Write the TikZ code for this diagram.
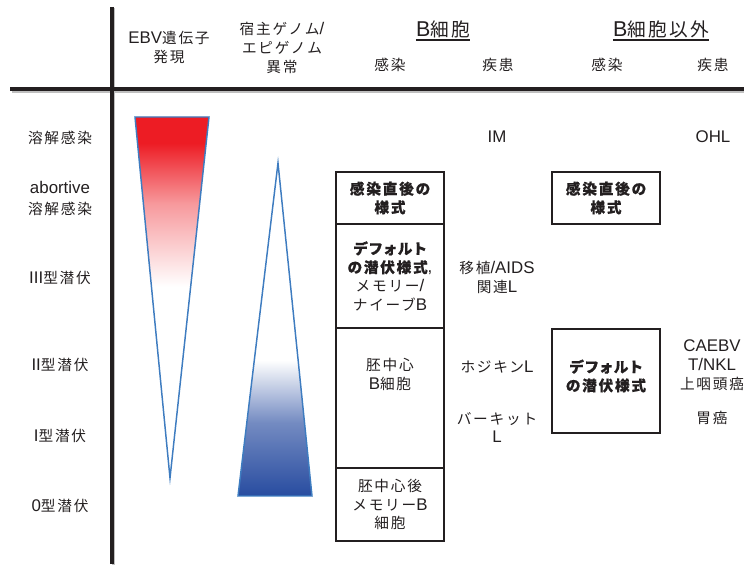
\documentclass[tikz,border=0pt]{standalone}
\usepackage{fontspec}
\setmainfont{Noto Sans CJK JP}[LetterSpace=12, BoldFeatures={RawFeature=+palt, FakeBold=0.5}]
\newfontfamily\hv{Liberation Sans}[Scale=1.15]
\definecolor{ebvred}{RGB}{237,28,36}
\definecolor{hostblue}{RGB}{40,76,160}
\definecolor{edgeblue}{RGB}{62,124,192}
\definecolor{txt}{RGB}{35,31,32}
\pgfdeclareverticalshading{redfade}{100bp}{color(0bp)=(white); color(51.5bp)=(white); color(63bp)=(ebvred!45); color(71.4bp)=(ebvred); color(100bp)=(ebvred)}
\pgfdeclareverticalshading{bluefade}{100bp}{color(0bp)=(hostblue); color(25bp)=(hostblue); color(36bp)=(hostblue!65); color(45.4bp)=(white); color(100bp)=(white)}
\tikzset{
  lab/.style={font=\fontsize{11pt}{14.2pt}\selectfont, align=center, inner sep=0pt, text=txt},
  head/.style={font=\fontsize{14pt}{16pt}\selectfont, inner sep=0pt, text=txt},
  cellbox/.style={draw=txt, line width=1.4pt, inner sep=0pt, minimum width=81pt, align=center,
    font=\fontsize{11pt}{14pt}\selectfont, text=txt},
  tri/.style={draw=edgeblue, line width=1.1pt, line join=miter},
  axis/.style={line width=2.3pt, draw=txt},
  axisshadow/.style={line width=2.3pt, draw=black!25}
}
\begin{document}
\begin{tikzpicture}[x=0.75pt,y=-0.75pt]
\useasboundingbox (0,0) rectangle (744,566);
% axes
\coordinate (vtop) at (112,7);
\coordinate (vbot) at (112,564);
\coordinate (hleft) at (10,89);
\coordinate (hright) at (744,89);
\draw[axisshadow] ([shift={(1.5,2)}]hleft) -- ([shift={(0,2)}]hright);
\draw[axisshadow] ([shift={(1.5,1)}]vtop) -- ([shift={(1.5,1)}]vbot);
\draw[axis] (hleft) -- (hright);
\draw[axis] (vtop) -- (vbot);
% headers
\node[lab] (hebv) at (169,47.5) {{\hv EBV}遺伝子\\発現};
\node[lab] (hhost) at (282,48) {宿主ゲノム{\hv /}\\エピゲノム\\異常};
\node[head] (hb) at (443,29) {{\hv B}細胞};
\node[head] (hnb) at (661,29) {{\hv B}細胞以外};
\draw[line width=1.3pt, txt] ([yshift=-3pt]hb.base west) -- ([yshift=-3pt]hb.base east);
\draw[line width=1.3pt, txt] ([yshift=-3pt]hnb.base west) -- ([yshift=-3pt]hnb.base east);
\node[lab] (hbinf) at (390,65) {感染};
\node[lab] (hbdis) at (498,65) {疾患};
\node[lab] (hnbinf) at (607,65) {感染};
\node[lab] (hnbdis) at (713,65) {疾患};
% row labels
\node[lab] (r1) at (60,138) {溶解感染};
\node[lab] (r2) at (60,198.5) {{\hv abortive}\\[1pt]溶解感染};
\node[lab] (r3) at (60,278) {{\hv III}型潜伏};
\node[lab] (r4) at (60,365) {{\hv II}型潜伏};
\node[lab] (r5) at (60,436) {{\hv I}型潜伏};
\node[lab] (r6) at (60,506) {{\hv 0}型潜伏};
% triangles
\shadedraw[tri, shading=redfade] (135,117) -- (209,117) -- (170,478) -- cycle;
\shadedraw[tri, shading=bluefade] (278,163) -- (312,496) -- (238,496) -- cycle;
% B-cell infection boxes
\node[cellbox, minimum height=39pt] (b1) at (390,198) {\bfseries 感染直後の\\\bfseries 様式};
\node[cellbox, minimum height=78pt] (b2) at (390,276) {\bfseries デフォルト\\\bfseries の潜伏様式{\mdseries\hv ,}\\メモリー{\hv /}\\ナイーブ{\hv B}};
\node[cellbox, minimum height=105pt] (b3) at (390,398) {};
\node[lab] (b3t) at (390,374) {胚中心\\{\hv B}細胞};
\node[cellbox, minimum height=54.75pt] (b4) at (390,504.5) {胚中心後\\メモリー{\hv B}\\細胞};
% non-B infection boxes
\node[cellbox, minimum height=39pt] (nb1) at (606,198) {\bfseries 感染直後の\\\bfseries 様式};
\node[cellbox, minimum height=78pt] (nb2) at (606,381) {};
\node[lab, font=\fontsize{11pt}{14pt}\selectfont\bfseries] (nb2t) at (606,376) {デフォルト\\の潜伏様式};
% B-cell diseases
\node[lab] (dim) at (497,137) {\hv IM};
\node[lab] (dtx) at (497,277.5) {移植{\hv /AIDS}\\関連{\hv L}};
\node[lab] (dhl) at (497,367) {ホジキン{\hv L}};
\node[lab] (dbl) at (497,427.5) {バーキット\\{\hv L}};
% non-B diseases
\node[lab] (dohl) at (713,137) {\hv OHL};
\node[lab] (dcae) at (712,365) {{\hv CAEBV}\\{\hv T/NKL}\\上咽頭癌};
\node[lab] (dgc) at (712,418) {胃癌};
\end{tikzpicture}
\end{document}
